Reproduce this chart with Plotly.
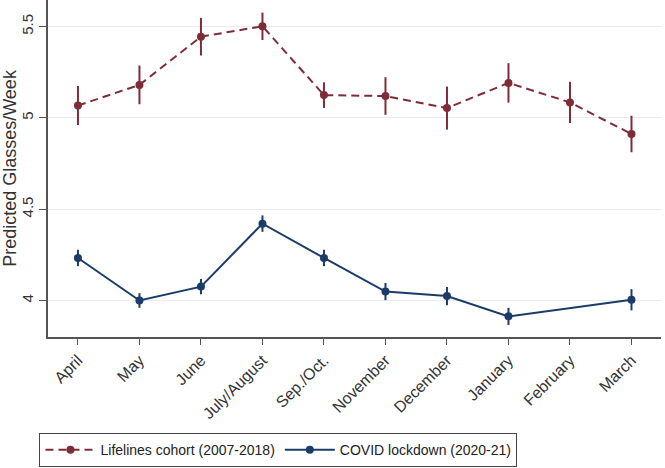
import plotly.graph_objects as go

months = ["April", "May", "June", "July/August", "Sep./Oct.", "November",
          "December", "January", "February", "March"]

lifelines = [5.068, 5.181, 5.445, 5.502, 5.125, 5.120, 5.054, 5.192, 5.085, 4.912]
lifelines_err = [0.107, 0.106, 0.103, 0.075, 0.070, 0.103, 0.118, 0.108, 0.113, 0.100]

covid = [4.233, 4.000, 4.076, 4.421, 4.233, 4.049, 4.024, 3.913, None, 4.004]
covid_err = [0.045, 0.040, 0.042, 0.045, 0.045, 0.047, 0.050, 0.047, 0, 0.058]

y_ticks = [4, 4.5, 5, 5.5]
y_ticklabels = ["4", "4.5", "5", "5.5"]

RED = "#7e2c37"
BLUE = "#1b3c68"
FONT = "Liberation Sans, Arial, sans-serif"

x_idx = list(range(len(months)))

fig = go.Figure()
fig.add_trace(go.Scatter(
    x=x_idx, y=lifelines, mode="lines+markers",
    name="Lifelines cohort (2007-2018)",
    line=dict(color=RED, width=2, dash="8px,5px"),
    marker=dict(color=RED, size=8),
    error_y=dict(type="data", array=lifelines_err, color=RED, thickness=2, width=0),
))
fig.add_trace(go.Scatter(
    x=x_idx, y=covid, mode="lines+markers",
    name="COVID lockdown (2020-21)",
    connectgaps=True,
    line=dict(color=BLUE, width=2),
    marker=dict(color=BLUE, size=8),
    error_y=dict(type="data", array=covid_err, color=BLUE, thickness=2, width=0),
))

fig.update_layout(
    width=665, height=468,
    paper_bgcolor="white", plot_bgcolor="white",
    margin=dict(l=48, r=4, t=0, b=131),
    font=dict(family=FONT, size=13, color="#333333"),
    showlegend=True,
    legend=dict(
        orientation="h", x=0.376, xanchor="center", y=-0.285, yanchor="top",
        bordercolor="#444444", borderwidth=1, bgcolor="white",
        font=dict(family=FONT, size=14, color="#222222"),
        itemwidth=50, tracegroupgap=0,
    ),
    xaxis=dict(
        range=[-0.487, 9.48], tickmode="array", tickvals=x_idx, ticktext=months,
        tickangle=-45, ticks="outside", ticklen=6, tickcolor="#555555",
        showline=True, linecolor="#555555", linewidth=1.5,
        showgrid=False, zeroline=False, automargin=False,
        tickfont=dict(family=FONT, size=16, color="#333333"),
    ),
    yaxis=dict(
        range=[3.80, 5.646], tickmode="array", tickvals=y_ticks, ticktext=y_ticklabels,
        tickangle=-90, ticks="outside", ticklen=7, tickcolor="#555555",
        showline=True, linecolor="#555555", linewidth=1.5,
        showgrid=True, gridcolor="#ebebeb", gridwidth=1, zeroline=False,
        automargin=False,
        title=dict(text="Predicted Glasses/Week", font=dict(family=FONT, size=18, color="#333333"), standoff=2),
        tickfont=dict(family=FONT, size=15, color="#333333"),
    ),
)

fig.write_html("out.html", config={"displayModeBar": False},
               post_script="document.body.style.margin='0px';")
